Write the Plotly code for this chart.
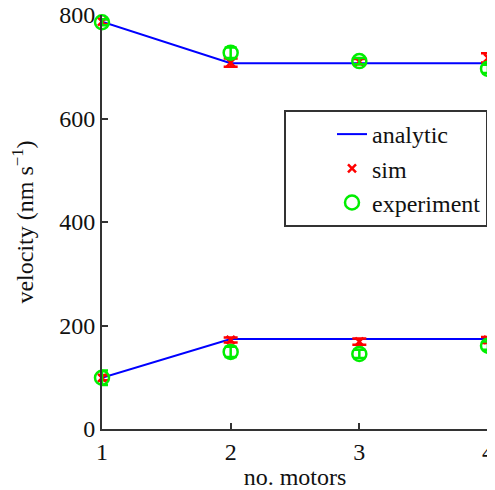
import plotly.graph_objects as go

motors = [1, 2, 3, 4]
analytic_upper = [787, 707, 707, 707]
analytic_lower = [99, 174, 174, 174]
sim_upper = [787, 708, 710, 717]
sim_upper_err = [5, 8, 5, 9]
sim_lower = [99, 172, 169, 172]
sim_lower_err = [5, 5, 6, 6]
exp_upper = [786, 727, 711, 696]
exp_upper_err = [6, 10, 6, 8]
exp_lower = [99, 149, 145, 161]
exp_lower_err = [14, 10, 8, 8]

xs_line = motors + [None] + motors
ys_line = analytic_upper + [None] + analytic_lower

fig = go.Figure()
fig.add_trace(go.Scatter(
    x=xs_line, y=ys_line, mode="lines", name="analytic",
    line=dict(color="#0000ff", width=2), cliponaxis=False,
))
fig.add_trace(go.Scatter(
    x=motors + motors, y=sim_upper + sim_lower, mode="markers", name="sim",
    marker=dict(symbol="x-thin-open", size=8, color="#ff0000", line=dict(color="#ff0000", width=2.5)),
    error_y=dict(type="data", array=sim_upper_err + sim_lower_err, color="#ff0000", thickness=2.5, width=7),
    cliponaxis=False,
))
fig.add_trace(go.Scatter(
    x=motors + motors, y=exp_upper + exp_lower, mode="markers", name="experiment",
    marker=dict(symbol="circle-open", size=14, color="#00ee00", line=dict(color="#00ee00", width=2.5)),
    error_y=dict(type="data", array=exp_upper_err + exp_lower_err, color="#00ee00", thickness=2.5, width=6),
    cliponaxis=False,
))

serif = "Liberation Serif"
txt = dict(family=serif, size=24, color="#111111")
fig.update_layout(
    width=487, height=482,
    margin=dict(l=94, r=7, t=7, b=61),
    plot_bgcolor="white", paper_bgcolor="white",
    font=txt,
    showlegend=True,
    legend=dict(
        x=0.4715, y=0.7705, xanchor="left", yanchor="top",
        bgcolor="white", bordercolor="#333333", borderwidth=2,
        font=txt, tracegroupgap=0, indentation=46,
    ),
    xaxis=dict(
        range=[1, 4], tickvals=motors, ticktext=[str(m) for m in motors],
        showline=True, linecolor="#333333", linewidth=2,
        ticks="inside", ticklen=6, tickwidth=2, tickcolor="#333333",
        showgrid=False, zeroline=False, automargin=False,
        ticklabeloverflow="allow",
        tickfont=txt,
        title=dict(text="no. motors", standoff=4, font=txt),
    ),
    yaxis=dict(
        range=[0, 800], tickvals=[0, 200, 400, 600, 800],
        showline=True, linecolor="#333333", linewidth=2,
        ticks="inside", ticklen=6, tickwidth=2, tickcolor="#333333",
        showgrid=False, zeroline=False, automargin=False,
        ticklabeloverflow="allow",
        tickfont=txt,
        title=dict(text="velocity (nm s<sup>−1</sup>)", standoff=21, font=txt),
    ),
)

fig.write_html("out.html")
